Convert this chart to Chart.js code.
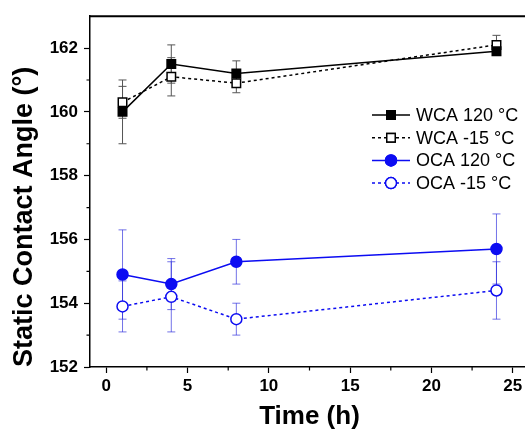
<!DOCTYPE html>
<html>
<head>
<meta charset="utf-8">
<script src="https://cdn.jsdelivr.net/npm/chart.js@4"></script>
<style>
  html, body { margin: 0; background: #fff; overflow: hidden; }
  .wrap { width: 525px; height: 431px; overflow: hidden; }
  canvas { display: block; }
</style>
</head>
<body>
<div class="wrap"><canvas id="angle-chart" width="540" height="431"></canvas></div>
<script>
'use strict';
// measurements
const hours = [1, 4, 8, 24];
const labels = ['WCA 120 °C', 'WCA -15 °C', 'OCA 120 °C', 'OCA -15 °C'];
const wca120 = [160.0, 161.5, 161.2, 161.9];
const wca120Err = [1.0, 0.6, 0.4, 0.1];
const wcaCold = [160.3, 161.1, 160.9, 162.1];
const wcaColdErr = [0.5, 0.6, 0.3, 0.3];
const oca120 = [154.9, 154.6, 155.3, 155.7];
const oca120Err = [1.4, 0.8, 0.7, 1.1];
const ocaCold = [153.9, 154.2, 153.5, 154.4];
const ocaColdErr = [0.8, 1.1, 0.5, 0.9];

// axis ticks
const xTicks = [0, 5, 10, 15, 20, 25];
const xMinor = [2.5, 7.5, 12.5, 17.5, 22.5];
const yTicks = [152, 154, 156, 158, 160, 162];
const yMinor = [153, 155, 157, 159, 161];

const FONT = "'Liberation Sans', Arial, sans-serif";
const BLUE = '#0c0cf2';

const series = [
  { label: labels[0], y: wca120, err: wca120Err, color: '#000', fill: '#000', dash: [], style: 'rect', radius: 6, errColor: '#555' },
  { label: labels[1], y: wcaCold, err: wcaColdErr, color: '#000', fill: '#fff', dash: [3, 3], style: 'rect', radius: 6, errColor: '#555' },
  { label: labels[2], y: oca120, err: oca120Err, color: BLUE, fill: BLUE, dash: [], style: 'circle', radius: 5.5, errColor: 'rgba(40,40,220,0.65)' },
  { label: labels[3], y: ocaCold, err: ocaColdErr, color: BLUE, fill: '#fff', dash: [3, 3], style: 'circle', radius: 5.5, errColor: 'rgba(40,40,220,0.65)' },
];

const datasets = series.map(s => ({
  label: s.label,
  data: hours.map((h, i) => ({ x: h, y: s.y[i] })),
  errors: s.err,
  errColor: s.errColor,
  borderColor: s.color,
  borderWidth: 1.5,
  borderDash: s.dash,
  pointStyle: s.style,
  pointRadius: s.radius,
  pointBackgroundColor: s.fill,
  pointBorderColor: s.color,
  pointBorderWidth: 1.5,
  tension: 0,
}));

// error bars under the lines
const errorBars = {
  id: 'errorBars',
  beforeDatasetsDraw(chart) {
    const { ctx, scales: { x, y } } = chart;
    ctx.save();
    ctx.lineWidth = 1;
    chart.data.datasets.forEach(ds => {
      ctx.strokeStyle = ds.errColor;
      ds.data.forEach((p, i) => {
        const px = x.getPixelForValue(p.x);
        const top = y.getPixelForValue(p.y + ds.errors[i]);
        const bot = y.getPixelForValue(p.y - ds.errors[i]);
        ctx.beginPath();
        ctx.moveTo(px, top);
        ctx.lineTo(px, bot);
        ctx.moveTo(px - 4, top);
        ctx.lineTo(px + 4, top);
        ctx.moveTo(px - 4, bot);
        ctx.lineTo(px + 4, bot);
        ctx.stroke();
      });
    });
    ctx.restore();
  },
};

// top border, minor ticks and the legend box
const frame = {
  id: 'frame',
  afterDraw(chart) {
    const { ctx, chartArea: a, scales: { x, y } } = chart;
    ctx.save();
    // keep the open right side clear
    ctx.fillStyle = '#fff';
    ctx.fillRect(520, a.top + 2, 40, a.bottom - a.top - 3);

    ctx.strokeStyle = '#000';
    ctx.lineWidth = 2;
    ctx.beginPath();
    ctx.moveTo(a.left - 1, a.top);
    ctx.lineTo(a.right + 20, a.top);
    ctx.stroke();

    ctx.lineWidth = 1.2;
    ctx.beginPath();
    xMinor.forEach(v => {
      const px = x.getPixelForValue(v);
      ctx.moveTo(px, a.bottom);
      ctx.lineTo(px, a.bottom + 3.5);
    });
    yMinor.forEach(v => {
      const py = y.getPixelForValue(v);
      ctx.moveTo(a.left, py);
      ctx.lineTo(a.left - 3.5, py);
    });
    ctx.stroke();

    // legend
    const lx = 372, ly = 115, rowH = 22.7;
    ctx.font = '18px ' + FONT;
    ctx.textBaseline = 'middle';
    chart.data.datasets.forEach((ds, i) => {
      const cy = ly + i * rowH;
      ctx.strokeStyle = ds.borderColor;
      ctx.lineWidth = 1.5;
      ctx.setLineDash(ds.borderDash);
      ctx.beginPath();
      ctx.moveTo(lx, cy);
      ctx.lineTo(lx + 38, cy);
      ctx.stroke();
      ctx.setLineDash([]);
      Chart.helpers.drawPoint(ctx, {
        pointStyle: ds.pointStyle,
        radius: ds.pointRadius,
        borderWidth: 1.5,
      }, lx + 19, cy);
      ctx.fillStyle = ds.pointBackgroundColor;
      ctx.fill();
      ctx.strokeStyle = ds.pointBorderColor;
      ctx.stroke();
      ctx.fillStyle = '#000';
      ctx.fillText(ds.label, lx + 44, cy + 1);
    });
    ctx.restore();
  },
};

new Chart(document.getElementById('angle-chart'), {
  type: 'line',
  data: { datasets },
  plugins: [errorBars, frame],
  options: {
    responsive: false,
    animation: false,
    layout: { padding: { top: 14, right: 11, left: 0, bottom: 0 } },
    plugins: { legend: { display: false }, tooltip: { enabled: false } },
    scales: {
      x: {
        type: 'linear',
        min: -1,
        max: 26,
        afterBuildTicks: s => { s.ticks = xTicks.map(v => ({ value: v })); },
        afterFit: s => { s.height = 64; },
        border: { color: '#000', width: 1.5 },
        grid: { drawOnChartArea: false, tickLength: 6, tickColor: '#000', tickWidth: 1.2 },
        ticks: { color: '#000', padding: 3, maxRotation: 0, font: { family: FONT, size: 17, weight: 'bold' } },
        title: {
          display: true,
          text: 'Time (h)',
          color: '#000',
          padding: { top: 0, bottom: 1 },
          font: { family: FONT, size: 26, weight: 'bold', lineHeight: 1 },
        },
      },
      y: {
        min: 152,
        max: 163,
        afterBuildTicks: s => { s.ticks = yTicks.map(v => ({ value: v })); },
        afterFit: s => { s.width = 90; },
        border: { color: '#000', width: 1.5 },
        grid: { drawOnChartArea: false, tickLength: 6, tickColor: '#000', tickWidth: 1.2 },
        ticks: { color: '#000', padding: 6, font: { family: FONT, size: 17, weight: 'bold' } },
        title: {
          display: true,
          text: 'Static Contact Angle (°)',
          align: 'start',
          color: '#000',
          padding: { top: 11, bottom: 0 },
          font: { family: FONT, size: 27, weight: 'bold', lineHeight: 1 },
        },
      },
    },
  },
});
</script>
</body>
</html>
